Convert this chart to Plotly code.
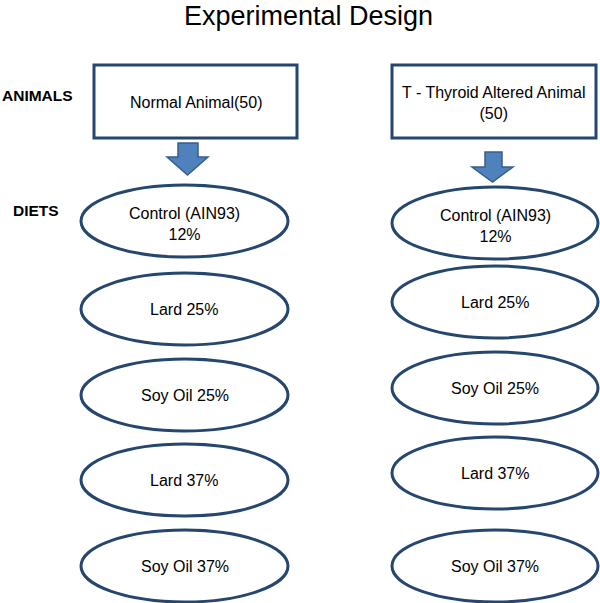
import plotly.graph_objects as go

title = "Experimental Design"
row_labels = ["ANIMALS", "DIETS"]
animal_groups = ["Normal Animal(50)", "T - Thyroid Altered Animal<br>(50)"]
diets = ["Control (AIN93)<br>12%", "Lard 25%", "Soy Oil 25%", "Lard 37%", "Soy Oil 37%"]

# layout geometry (pixel coordinates, y downward)
box_x = [(94, 297), (392, 596)]
box_y = (65, 138)
ell_x = [(81, 288), (392, 598)]
ell_cy = [[221, 309, 395, 480, 566], [223, 302, 388, 473, 566]]
ell_h = 72
arrows = [dict(x0=167, x1=208, sx0=178, sx1=198, top=143, mid=157, tip=175),
          dict(x0=472, x1=513, sx0=485, sx1=502, top=152, mid=167, tip=182)]

EDGE = "#25466f"
ARROW_FILL = "#4f81bd"
ARROW_EDGE = "#385d8a"
FONT = "Liberation Sans, Arial, Helvetica, sans-serif"
FS = 16

fig = go.Figure()
shapes = []
annotations = []

for i, label in enumerate(animal_groups):
    x0, x1 = box_x[i]
    shapes.append(dict(type="rect", xref="x", yref="y", x0=x0, x1=x1, y0=box_y[0], y1=box_y[1],
                       line=dict(color=EDGE, width=3), fillcolor="white"))
    annotations.append(dict(x=(x0 + x1) / 2, y=(box_y[0] + box_y[1]) / 2 + 1, xref="x", yref="y",
                            text=label, showarrow=False, font=dict(size=FS, color="black", family=FONT)))
    a = arrows[i]
    path = (f"M {a['sx0']} {a['top']} L {a['sx1']} {a['top']} L {a['sx1']} {a['mid']} "
            f"L {a['x1']} {a['mid']} L {(a['x0'] + a['x1']) / 2} {a['tip']} L {a['x0']} {a['mid']} "
            f"L {a['sx0']} {a['mid']} Z")
    shapes.append(dict(type="path", xref="x", yref="y", path=path,
                       fillcolor=ARROW_FILL, line=dict(color=ARROW_EDGE, width=1.5)))
    ex0, ex1 = ell_x[i]
    for j, d in enumerate(diets):
        cy = ell_cy[i][j]
        shapes.append(dict(type="circle", xref="x", yref="y", x0=ex0, x1=ex1,
                           y0=cy - ell_h / 2, y1=cy + ell_h / 2,
                           line=dict(color=EDGE, width=3), fillcolor="white"))
        ty = cy + (3 if "<br>" in d else 0)
        annotations.append(dict(x=(ex0 + ex1) / 2, y=ty, xref="x", yref="y", text=d,
                                showarrow=False, font=dict(size=FS, color="black", family=FONT)))

annotations.append(dict(x=308, y=16, xref="x", yref="y", text=title, showarrow=False,
                        font=dict(size=27, color="black", family=FONT)))
annotations.append(dict(x=37, y=95, xref="x", yref="y", text="<b>" + row_labels[0] + "</b>",
                        showarrow=False, font=dict(size=15.5, color="black", family=FONT)))
annotations.append(dict(x=36, y=210, xref="x", yref="y", text="<b>" + row_labels[1] + "</b>",
                        showarrow=False, font=dict(size=15.5, color="black", family=FONT)))

fig.update_layout(
    width=600, height=603,
    margin=dict(l=0, r=0, t=0, b=0),
    paper_bgcolor="white", plot_bgcolor="white",
    xaxis=dict(range=[0, 600], visible=False, fixedrange=True),
    yaxis=dict(range=[603, 0], visible=False, fixedrange=True),
    shapes=shapes, annotations=annotations, showlegend=False,
)

fig.write_html("out.html", config={"displayModeBar": False},
               post_script="document.body.style.margin='0';document.body.style.overflow='hidden';")
